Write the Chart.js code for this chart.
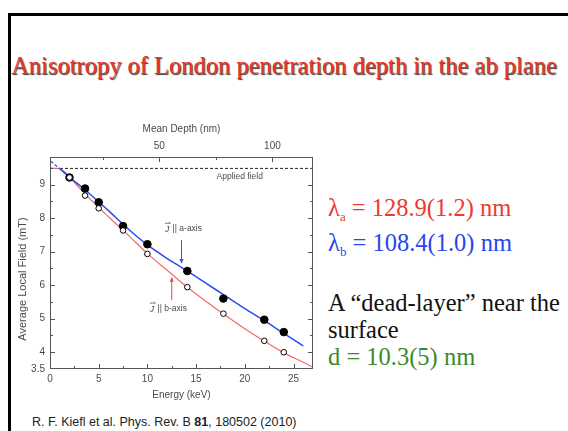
<!DOCTYPE html>
<html>
<head>
<meta charset="utf-8">
<script src="https://cdn.jsdelivr.net/npm/chart.js@4.4.0/dist/chart.umd.min.js"></script>
<style>
  body { margin: 0; width: 568px; height: 431px; overflow: hidden; background: #fff; position: relative; font-family: 'Liberation Serif', 'Times New Roman', serif; }
  .frame { position: absolute; left: 8px; top: 13px; width: 620px; height: 480px; border-left: 3px solid #000; border-top: 3px solid #000; }
  .title { position: absolute; left: 0; width: 568px; top: 52px; text-align: center; font-size: 24.5px; color: #e8342c; text-shadow: 1px 1px 1px rgba(0,0,0,0.8); white-space: nowrap; }
  .txt { position: absolute; left: 328px; font-size: 24.5px; line-height: 27px; white-space: nowrap; }
  .txt sub { font-size: 13px; vertical-align: -5px; }
  .cite { position: absolute; left: 32px; top: 415px; font-family: 'Liberation Sans', Arial, sans-serif; font-size: 12.5px; color: #222; white-space: nowrap; }
  #box { position: absolute; left: 0; top: 100px; }
</style>
</head>
<body>
<div class="frame"></div>
<div class="title">Anisotropy of London penetration depth in the ab plane</div>
<div class="txt" style="top:194px;color:#ee3a2e">&lambda;<sub>a</sub> = 128.9(1.2) nm</div>
<div class="txt" style="top:229px;color:#2846ee">&lambda;<sub>b</sub> = 108.4(1.0) nm</div>
<div class="txt" style="top:289px;color:#111">A &ldquo;dead-layer&rdquo; near the<br>surface</div>
<div class="txt" style="top:343px;color:#3a8a2a">d = 10.3(5) nm</div>
<div class="cite">R. F. Kiefl et al. Phys. Rev. B <b>81</b>, 180502 (2010)</div>
<div id="box"><canvas id="chart" width="330" height="325"></canvas></div>

<script>
// measured points
const energy = [2, 3.6, 5, 7.5, 10, 14.1, 17.8, 22, 24];
const fieldA = [9.21, 8.88, 8.47, 7.76, 7.22, 6.42, 5.6, 4.97, 4.6];
const fieldB = [9.21, 8.67, 8.29, 7.63, 6.93, 5.94, 5.15, 4.34, 4.0];

// fit curves
const fitEnergyA = [1, 2, 4, 6, 8, 10, 12, 14, 16, 18, 20, 22, 24, 26];
const fitFieldA = [9.47, 9.22, 8.74, 8.22, 7.68, 7.2, 6.8, 6.44, 6.06, 5.68, 5.3, 4.94, 4.56, 4.19];
const deadEnergyA = [0.1, 1];
const deadFieldA = [9.69, 9.47];
const fitEnergyB = [0, 1, 1.5, 2, 4, 6, 8, 10, 12, 14, 16, 18, 20, 22, 24, 26, 27];
const fitFieldB = [9.48, 9.47, 9.38, 9.22, 8.6, 8.04, 7.5, 6.94, 6.45, 5.96, 5.52, 5.1, 4.7, 4.33, 3.98, 3.7, 3.55];
const appliedField = 9.48;
const appliedRange = [0, 27];

// axes
const energyTicks = [0, 5, 10, 15, 20, 25];
const energyMinor = [2.5, 7.5, 12.5, 17.5, 22.5];
const fieldTicks = [3.5, 4, 5, 6, 7, 8, 9];
const fieldMinor = [4.5, 5.5, 6.5, 7.5, 8.5, 9.5];
const depthTicks = [50, 100];
const depthMinor = [25, 75];
const yTitle = 'Average Local Field (mT)';

// annotations [energy, field]
const appliedLabel = [17.1, 9.23];
const aLabel = [11.8, 7.68];
const bLabel = [10.25, 5.3];
const aArrow = [13.5, 7.34, 6.63];
const bArrow = [12.5, 5.56, 6.25];

const pts = (xs, ys) => xs.map((x, i) => ({ x: x, y: ys[i] }));
const sans = "'Liberation Sans', Arial, sans-serif";
const grey = '#4a4a4a';

const frameAndNotes = {
    id: 'frameAndNotes',
    afterDatasetsDraw(chart) {
        const { ctx, chartArea: a } = chart;
        const sx = chart.scales.x, sy = chart.scales.y, sd = chart.scales.x2;
        ctx.save();
        ctx.strokeStyle = '#555';
        ctx.lineWidth = 1;
        ctx.strokeRect(a.left + 0.5, a.top + 0.5, a.right - a.left - 1, a.bottom - a.top - 1);
        const line = (x1, y1, x2, y2) => { ctx.beginPath(); ctx.moveTo(x1, y1); ctx.lineTo(x2, y2); ctx.stroke(); };
        energyTicks.forEach(v => { const p = Math.round(sx.getPixelForValue(v)) + 0.5; line(p, a.bottom, p, a.bottom - 5); });
        energyMinor.forEach(v => { const p = Math.round(sx.getPixelForValue(v)) + 0.5; line(p, a.bottom, p, a.bottom - 3); });
        depthTicks.forEach(v => { const p = Math.round(sd.getPixelForValue(v)) + 0.5; line(p, a.top, p, a.top + 5); });
        depthMinor.forEach(v => { const p = Math.round(sd.getPixelForValue(v)) + 0.5; line(p, a.top, p, a.top + 3); });
        fieldTicks.slice(1).forEach(v => {
            const p = Math.round(sy.getPixelForValue(v)) + 0.5;
            line(a.left, p, a.left + 5, p); line(a.right, p, a.right - 5, p);
        });
        fieldMinor.forEach(v => {
            const p = Math.round(sy.getPixelForValue(v)) + 0.5;
            line(a.left, p, a.left + 3, p); line(a.right, p, a.right - 3, p);
        });

        // arrows
        const arrow = (arr, color) => {
            const x = sx.getPixelForValue(arr[0]);
            const y1 = sy.getPixelForValue(arr[1]), y2 = sy.getPixelForValue(arr[2]);
            const dir = y2 > y1 ? 1 : -1;
            ctx.strokeStyle = color; ctx.fillStyle = color;
            line(x, y1, x, y2 - dir * 3);
            ctx.beginPath();
            ctx.moveTo(x, y2); ctx.lineTo(x - 2, y2 - dir * 5); ctx.lineTo(x + 2, y2 - dir * 5);
            ctx.closePath(); ctx.fill();
        };
        arrow(aArrow, '#3355ee');
        arrow(bArrow, '#ee4444');

        // labels
        ctx.fillStyle = grey;
        ctx.strokeStyle = grey;
        ctx.textBaseline = 'middle';
        ctx.textAlign = 'left';
        ctx.font = '8.5px ' + sans;
        ctx.fillText('Applied field', sx.getPixelForValue(appliedLabel[0]), sy.getPixelForValue(appliedLabel[1]));
        const jLabel = (pos, txt) => {
            const x = sx.getPixelForValue(pos[0]), y = sy.getPixelForValue(pos[1]);
            ctx.font = 'italic 8.5px ' + sans;
            ctx.fillText('J', x, y + 1);
            const w = ctx.measureText('J ').width;
            // vector arrow over J
            ctx.lineWidth = 0.7;
            line(x, y - 5.5, x + 5.5, y - 5.5);
            line(x + 5.5, y - 5.5, x + 3.8, y - 6.8);
            ctx.font = '8.5px ' + sans;
            ctx.fillText('|| ' + txt, x + w + 1, y);
        };
        jLabel(aLabel, 'a-axis');
        jLabel(bLabel, 'b-axis');

        // y title
        ctx.save();
        ctx.translate(23, (a.top + a.bottom) / 2 + 16);
        ctx.rotate(-Math.PI / 2);
        ctx.textAlign = 'center';
        ctx.font = '11px ' + sans;
        ctx.fillText(yTitle, 0, 0);
        ctx.restore();
        ctx.restore();
    }
};

new Chart(document.getElementById('chart'), {
    type: 'scatter',
    data: {
        datasets: [
            { data: pts(energy, fieldB), backgroundColor: '#fff', borderColor: '#000', borderWidth: 1, pointRadius: 2.8, order: 1 },
            { data: pts(energy, fieldA), backgroundColor: '#000', borderColor: '#000', pointRadius: 3.8, order: 2 },
            { data: pts(fitEnergyA, fitFieldA), showLine: true, borderColor: '#2a4cf0', borderWidth: 1.5, pointRadius: 0, tension: 0.3, order: 3 },
            { data: pts(deadEnergyA, deadFieldA), showLine: true, borderColor: '#2a4cf0', borderWidth: 1.2, borderDash: [3, 2], pointRadius: 0, order: 4 },
            { data: pts(fitEnergyB, fitFieldB), showLine: true, borderColor: '#f26a6a', borderWidth: 1.2, pointRadius: 0, tension: 0.3, order: 5 },
            { data: pts(appliedRange, [appliedField, appliedField]), showLine: true, borderColor: '#222', borderWidth: 1, borderDash: [3, 2], pointRadius: 0, order: 6 }
        ]
    },
    options: {
        responsive: false,
        animation: false,
        layout: { padding: { left: 0, right: 17, top: 17, bottom: 16 } },
        plugins: { legend: { display: false }, tooltip: { enabled: false } },
        scales: {
            x: {
                type: 'linear', min: 0, max: 27,
                afterBuildTicks: s => { s.ticks = energyTicks.map(v => ({ value: v })); },
                afterFit: s => { s.height = 40; },
                grid: { display: false, drawTicks: false },
                border: { display: false },
                ticks: { color: grey, font: { family: sans, size: 10 }, padding: 4, maxRotation: 0 },
                title: { display: true, text: 'Energy (keV)', color: grey, font: { family: sans, size: 10 }, padding: { top: 0, bottom: 8 } }
            },
            x2: {
                type: 'linear', position: 'top', min: 1.8, max: 117.9,
                afterBuildTicks: s => { s.ticks = depthTicks.map(v => ({ value: v })); },
                afterFit: s => { s.height = 40; },
                grid: { display: false, drawTicks: false },
                border: { display: false },
                ticks: { color: grey, font: { family: sans, size: 10 }, padding: 5, maxRotation: 0 },
                title: { display: true, text: 'Mean Depth (nm)', color: grey, font: { family: sans, size: 10 }, padding: { top: 6, bottom: 0 } }
            },
            y: {
                type: 'linear', min: 3.5, max: 9.82,
                afterBuildTicks: s => { s.ticks = fieldTicks.map(v => ({ value: v })); },
                afterFit: s => { s.width = 50; },
                grid: { display: false, drawTicks: false },
                border: { display: false },
                ticks: { color: grey, font: { family: sans, size: 10 }, padding: 5 },
                title: { display: false }
            }
        }
    },
    plugins: [frameAndNotes]
});
</script>
</body>
</html>
